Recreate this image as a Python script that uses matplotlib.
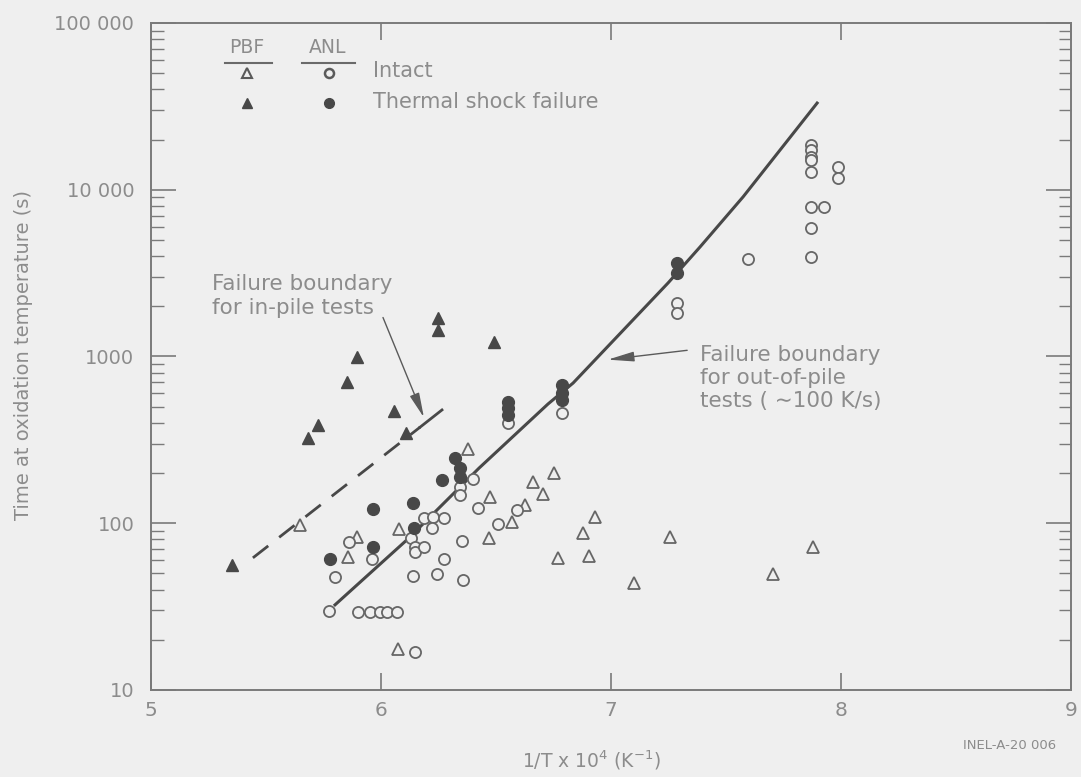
import numpy as np
import matplotlib.pyplot as plt
from matplotlib.ticker import NullFormatter

# PBF (in-pile) data
pbf_fail_x = [5.352, 5.683, 5.726, 5.852, 5.896, 6.057, 6.109, 6.248, 6.248, 6.491]
pbf_fail_t = [56, 325, 388, 703, 993, 471, 348, 1702, 1442, 1222]

pbf_intact_x = [5.648, 5.857, 5.896, 6.078, 6.074, 6.378, 6.474, 6.470, 6.570, 6.626,
                6.661, 6.704, 6.752, 6.770, 6.878, 6.930, 6.904, 7.100, 7.257, 7.704, 7.878]
pbf_intact_t = [97.7, 62.8, 82.7, 92.4, 17.6, 279, 143.7, 81.6, 101.7, 128.6,
                176.7, 149.7, 200, 61.9, 87.4, 108.9, 63.6, 43.8, 82.7, 49.6, 72.1]

# ANL (out-of-pile) data
anl_fail_x = [5.778, 5.965, 5.965, 6.139, 6.143, 6.265, 6.322, 6.343, 6.343,
              6.552, 6.552, 6.552, 6.787, 6.787, 6.787, 7.287, 7.287]
anl_fail_t = [61, 72.1, 121.7, 132.2, 93.7, 181.7, 246, 214, 189,
              533, 491, 446, 675, 604, 548, 3640, 3170]

anl_intact_x = [5.774, 5.900, 5.952, 5.996, 6.026, 6.070, 5.800, 5.861, 5.961, 6.130,
                6.148, 6.148, 6.187, 6.187, 6.226, 6.274, 6.222, 6.139, 6.243, 6.357,
                6.274, 6.352, 6.422, 6.400, 6.343, 6.343, 6.509, 6.591, 6.552, 6.787,
                7.287, 7.287, 7.596, 7.870, 7.870, 7.870, 7.870, 7.870, 7.987, 7.987,
                7.870, 7.926, 7.870, 7.870, 6.148]
anl_intact_t = [29.8, 29.4, 29.4, 29.4, 29.4, 29.4, 47.6, 77.2, 61, 81.6,
                72.1, 67.3, 72.1, 107.5, 109, 107.5, 93.7, 48.3, 49.6, 45.5,
                61, 78.3, 123.4, 184, 165, 147.7, 99, 120, 399, 458,
                2094, 1824, 3845, 18540, 17300, 15700, 15070, 12770, 13680, 11750,
                7880, 7880, 5900, 3950, 16.9]

# failure boundaries
out_pile_x = [5.800, 6.117, 6.426, 6.726, 6.835, 7.248, 7.387, 7.574, 7.896]
out_pile_t = [32.4, 80.5, 214, 519, 693, 2761, 4539, 9060, 33100]

in_pile_x = [5.443, 6.170, 6.265]
in_pile_t = [62, 377, 478]

yticks = [10, 100, 1000, 10000, 100000]
ytick_labels = ["10", "100", "1000", "10 000", "100 000"]
xticks = [5, 6, 7, 8, 9]

bg = "#efefef"
ink = "#484848"
txt = "#8c8c8c"
axc = "#7a7a7a"

plt.rcParams['font.family'] = ['DejaVu Sans']

fig = plt.figure(figsize=(10.81, 7.77), dpi=100, facecolor=bg)
ax = fig.add_axes([0.1397, 0.1120, 0.8511, 0.8584], facecolor=bg)
ax.set_yscale("log")
ax.set_xlim(5, 9)
ax.set_ylim(10, 100000)

# boundary lines
ax.plot(out_pile_x, out_pile_t, color=ink, lw=2.2, zorder=2)
ax.plot(in_pile_x[:2], in_pile_t[:2], color=ink, lw=2.0, ls=(0, (7, 5)), zorder=2)
ax.plot(in_pile_x[1:], in_pile_t[1:], color=ink, lw=2.0, zorder=2)

ms = 8
ax.plot(pbf_intact_x, pbf_intact_t, ls="none", marker="^", ms=ms, mfc=bg,
        mec="#666666", mew=1.3, zorder=3)
ax.plot(anl_intact_x, anl_intact_t, ls="none", marker="o", ms=ms, mfc=bg,
        mec="#666666", mew=1.3, zorder=3)
ax.plot(pbf_fail_x, pbf_fail_t, ls="none", marker="^", ms=ms, mfc=ink,
        mec=ink, mew=1.0, zorder=4)
ax.plot(anl_fail_x, anl_fail_t, ls="none", marker="o", ms=ms + 0.5, mfc=ink,
        mec=ink, mew=1.0, zorder=4)

# annotations
ax.annotate("", xy=(6.191, 416), xytext=(6.004, 1775),
            arrowprops=dict(arrowstyle="-|>,head_length=1.5,head_width=0.3",
                            color="#5a5a5a", lw=1.0), zorder=5)
ax.text(5.265, 2307, "Failure boundary\nfor in-pile tests", color=txt,
        fontsize=15.5, ha="left", va="center", linespacing=1.2)

ax.annotate("", xy=(6.974, 953), xytext=(7.343, 1094),
            arrowprops=dict(arrowstyle="-|>,head_length=1.6,head_width=0.3",
                            color="#5a5a5a", lw=1.0), zorder=5)
ax.text(7.387, 743, "Failure boundary\nfor out-of-pile\ntests ( \u223c100 K/s)",
        color=txt, fontsize=15.5, ha="left", va="center", linespacing=1.2)

# hand drawn legend
tr = ax.transAxes
ax.text(0.104, 0.964, "PBF", transform=tr, color=txt, fontsize=13.5,
        ha="center", va="center")
ax.text(0.192, 0.964, "ANL", transform=tr, color=txt, fontsize=13.5,
        ha="center", va="center")
ax.plot([0.080, 0.132], [0.940, 0.940], transform=tr, color="#6a6a6a", lw=1.5)
ax.plot([0.164, 0.222], [0.940, 0.940], transform=tr, color="#6a6a6a", lw=1.5)
ax.plot([0.104], [0.925], transform=tr, marker="^", ms=6.5, mfc=bg, mec="#5a5a5a", mew=1.5)
ax.plot([0.193], [0.925], transform=tr, marker="o", ms=6.5, mfc=bg, mec="#5a5a5a", mew=1.8)
ax.plot([0.104], [0.880], transform=tr, marker="^", ms=6.5, mfc=ink, mec=ink)
ax.plot([0.193], [0.880], transform=tr, marker="o", ms=7, mfc=ink, mec=ink)
ax.text(0.241, 0.928, "Intact", transform=tr, color=txt, fontsize=15,
        ha="left", va="center")
ax.text(0.241, 0.882, "Thermal shock failure", transform=tr, color=txt,
        fontsize=15, ha="left", va="center")

# axes styling
for s in ax.spines.values():
    s.set_color(axc)
    s.set_linewidth(1.4)

ax.set_xticks(xticks)
ax.set_xticklabels([str(v) for v in xticks])
ax.set_yticks(yticks)
ax.set_yticklabels(ytick_labels)
ax.yaxis.set_minor_formatter(NullFormatter())
ax.tick_params(axis="x", which="major", direction="in", length=12, width=1.2,
               color=axc, top=True, labelcolor=txt, labelsize=14.5, pad=8)
ax.tick_params(axis="y", which="major", direction="in", length=18, width=1.2,
               color=axc, right=True, labelcolor=txt, labelsize=14, pad=12)
ax.tick_params(axis="y", which="minor", direction="in", length=9, width=1.0,
               color=axc, right=True)

ax.set_xlabel("1/T x 10$^4$ (K$^{-1}$)", color=txt, fontsize=13.5)
ax.xaxis.set_label_coords(0.479, -0.088)
ax.set_ylabel("Time at oxidation temperature (s)", color=txt, fontsize=14)
ax.yaxis.set_label_coords(-0.128, 0.502)

fig.text(0.934, 0.041, "INEL-A-20 006", color=txt, fontsize=9.5,
         ha="center", va="center")

fig.savefig("out.png", dpi=100, facecolor=bg)
